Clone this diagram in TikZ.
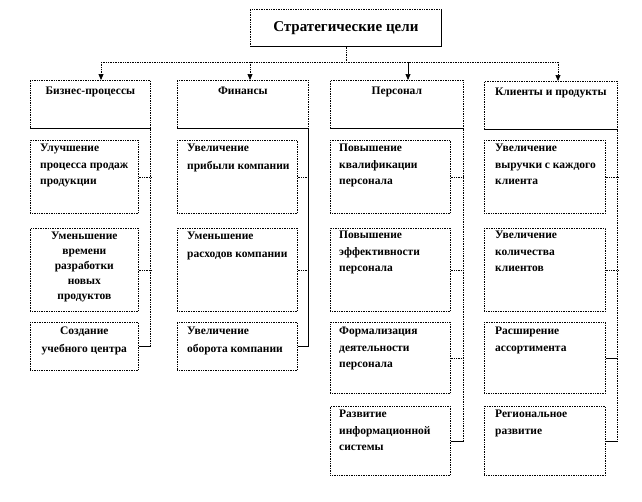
\documentclass[tikz,border=0pt]{standalone}
\usepackage{fontspec}
\setmainfont{Liberation Serif}
\usetikzlibrary{arrows.meta}
\begin{document}
\begin{tikzpicture}[x=1pt,y=-1pt,
  bx/.style={draw, densely dotted, line width=0.7pt, anchor=north west, inner sep=0pt},
  dl/.style={densely dotted, line width=0.7pt},
  sl/.style={line width=0.7pt},
  arr/.style={-{Triangle[length=6pt,width=5pt]}},
  tl/.style={font=\bfseries\fontsize{11.5}{16.5}\selectfont, align=left, inner sep=0pt, anchor=north west},
  tc/.style={font=\bfseries\fontsize{11.5}{15}\selectfont, align=center, inner sep=0pt, anchor=north},
  th/.style={font=\bfseries\fontsize{11.5}{14}\selectfont, align=center, inner sep=0pt, anchor=north}]
\useasboundingbox (0,0) rectangle (642,501);
% title
\node[bx, minimum width=191pt, minimum height=37pt] (title) at (250,9) {};
\node[font=\bfseries\fontsize{15}{18}\selectfont, inner sep=0pt] (titletext) at (title.center) {Стратегические цели};
\draw[sl] (title.north east) -- (title.south east) -- (title.south west);
% headers
\node[bx, minimum width=120pt, minimum height=48pt] (h1) at (30,80) {};
\node[bx, minimum width=131pt, minimum height=48pt] (h2) at (177,80) {};
\node[bx, minimum width=133pt, minimum height=48pt] (h3) at (330,80) {};
\node[bx, minimum width=133pt, minimum height=48pt] (h4) at (484,81) {};
\foreach \h in {h1,h2,h3,h4}{\draw[sl] (\h.south west) -- (\h.south east);}
\node[th] (h1t) at ([yshift=-7pt]h1.north) {Бизнес-процессы};
\node[th] (h2t) at ([yshift=-7pt]h2.north) {Финансы};
\node[th] (h3t) at ([yshift=-7pt]h3.north) {Персонал};
\node[th] (h4t) at ([yshift=-7pt]h4.north) {Клиенты и продукты};
% connectors from title
\coordinate (j) at (title.south |- 0,62);
\coordinate (a1) at (101,62);
\coordinate (a2) at (250,62);
\coordinate (a3) at (408,62);
\coordinate (a4) at (558,62);
\draw[dl] (title.south) -- (j);
\draw[dl] (a1) -- (a4);
\draw[dl,arr] (a1) -- (a1 |- h1.north);
\draw[dl,arr] (a2) -- (a2 |- h2.north);
\draw[sl,arr] (a3) -- (a3 |- h3.north);
\draw[dl,arr] (a4) -- (a4 |- h4.north);
% column 1
\node[bx, minimum width=108pt, minimum height=73pt] (c1a) at (30,140) {};
\node[bx, minimum width=108pt, minimum height=83pt] (c1b) at (30,228) {};
\node[bx, minimum width=108pt, minimum height=48pt] (c1c) at (30,322) {};
\node[tl] (c1at) at ([xshift=10pt,yshift=-4pt]c1a.north west) {Улучшение\\процесса продаж\\продукции};
\node[tc] (c1bt) at ([yshift=-4pt]c1b.north) {Уменьшение\\времени\\разработки\\новых\\продуктов};
\node[tc, font=\bfseries\fontsize{11.5}{18}\selectfont] (c1ct) at ([yshift=-5pt]c1c.north) {Создание\\учебного центра};
% column 2
\node[bx, minimum width=120pt, minimum height=73pt] (c2a) at (177,140) {};
\node[bx, minimum width=120pt, minimum height=83pt] (c2b) at (177,228) {};
\node[bx, minimum width=120pt, minimum height=48pt] (c2c) at (177,322) {};
\node[tl, font=\bfseries\fontsize{11.5}{18}\selectfont] (c2at) at ([xshift=10pt,yshift=-4pt]c2a.north west) {Увеличение\\прибыли компании};
\node[tl, font=\bfseries\fontsize{11.5}{18}\selectfont] (c2bt) at ([xshift=10pt,yshift=-4pt]c2b.north west) {Уменьшение\\расходов компании};
\node[tl, font=\bfseries\fontsize{11.5}{18}\selectfont] (c2ct) at ([xshift=10pt,yshift=-5pt]c2c.north west) {Увеличение\\оборота компании};
% column 3
\node[bx, minimum width=120pt, minimum height=73pt] (c3a) at (330,140) {};
\node[bx, minimum width=120pt, minimum height=83pt] (c3b) at (330,228) {};
\node[bx, minimum width=120pt, minimum height=71pt] (c3c) at (330,322) {};
\node[bx, minimum width=120pt, minimum height=69pt] (c3d) at (330,406) {};
\node[tl] (c3at) at ([xshift=9pt,yshift=-4pt]c3a.north west) {Повышение\\квалификации\\персонала};
\node[tl] (c3bt) at ([xshift=9pt,yshift=-3pt]c3b.north west) {Повышение\\эффективности\\персонала};
\node[tl] (c3ct) at ([xshift=9pt,yshift=-5pt]c3c.north west) {Формализация\\деятельности\\персонала};
\node[tl] (c3dt) at ([xshift=9pt,yshift=-4pt]c3d.north west) {Развитие\\информационной\\системы};
% column 4
\node[bx, minimum width=121pt, minimum height=73pt] (c4a) at (484,140) {};
\node[bx, minimum width=121pt, minimum height=83pt] (c4b) at (484,228) {};
\node[bx, minimum width=121pt, minimum height=71pt] (c4c) at (484,322) {};
\node[bx, minimum width=121pt, minimum height=69pt] (c4d) at (484,406) {};
\node[tl] (c4at) at ([xshift=11pt,yshift=-4pt]c4a.north west) {Увеличение\\выручки с каждого\\клиента};
\node[tl] (c4bt) at ([xshift=11pt,yshift=-3pt]c4b.north west) {Увеличение\\количества\\клиентов};
\node[tl] (c4ct) at ([xshift=11pt,yshift=-5pt]c4c.north west) {Расширение\\ассортимента};
\node[tl] (c4dt) at ([xshift=11pt,yshift=-4pt]c4d.north west) {Региональное\\развитие};
% spines
\draw[dl] (h1.south east) -- (h1.south east |- c1c.east);
\foreach \b in {c1a,c1b}{\draw[dl] (\b.east) -- (\b.east -| h1.south east);}
\draw[sl] (c1c.east) -- (c1c.east -| h1.south east);
\draw[sl] (h2.south east) -- (h2.south east |- c2c.east);
\foreach \b in {c2a,c2b}{\draw[dl] (\b.east) -- (\b.east -| h2.south east);}
\draw[sl] (c2c.east) -- (c2c.east -| h2.south east);
\draw[dl] (h3.south east) -- (h3.south east |- c3d.east);
\foreach \b in {c3a,c3b,c3c}{\draw[dl] (\b.east) -- (\b.east -| h3.south east);}
\draw[sl] (c3d.east) -- (c3d.east -| h3.south east);
\draw[dl] (h4.south east) -- (h4.south east |- c4d.east);
\foreach \b in {c4a,c4b}{\draw[dl] (\b.east) -- (\b.east -| h4.south east);}
\foreach \b in {c4c,c4d}{\draw[sl] (\b.east) -- (\b.east -| h4.south east);}
\end{tikzpicture}
\end{document}
